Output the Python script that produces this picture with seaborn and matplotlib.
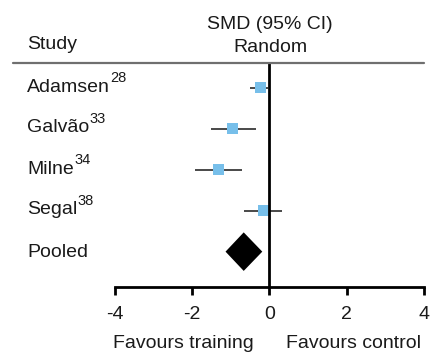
import matplotlib
matplotlib.use("Agg")
import matplotlib.pyplot as plt
import seaborn as sns
import pandas as pd
from matplotlib.lines import Line2D

# ---- data ----
studies = ["Adamsen", "Galvão", "Milne", "Segal"]
refs = ["28", "33", "34", "38"]
smd = [-0.22, -0.96, -1.31, -0.16]
ci_low = [-0.50, -1.51, -1.92, -0.66]
ci_high = [-0.04, -0.33, -0.70, 0.32]
pooled_label = "Pooled"
pooled_smd = -0.66
pooled_low = -1.13
pooled_high = -0.18
xticks = [-4, -2, 0, 2, 4]
xticklabels = ["-4", "-2", "0", "2", "4"]

sns.set_theme(style="white")
plt.rcParams["font.family"] = ["Liberation Sans", "DejaVu Sans"]

W, H = 432, 356
FS = 14
TXT = "#1a1a1a"
fig = plt.figure(figsize=(W / 100, H / 100), dpi=100)
renderer = fig.canvas.get_renderer()

def fx(px):
    return px / W

def fy(py):
    return 1 - py / H

ax_left, ax_right, ax_top, ax_bot = 114.5, 424.0, 62.7, 287.3
ax = fig.add_axes([fx(ax_left), fy(ax_bot), fx(ax_right - ax_left), (ax_bot - ax_top) / H])

df = pd.DataFrame({"study": studies, "smd": smd, "lo": ci_low, "hi": ci_high,
                   "row": list(range(len(studies)))})

# CI lines
ax.hlines(df["row"], df["lo"], df["hi"], color="#2a2a2a", lw=1.2, zorder=2)
# squares
sns.scatterplot(data=df, x="smd", y="row", marker="s", s=64, color="#77BFEA",
                edgecolor="none", linewidth=0, ax=ax, zorder=3, legend=False)

# pooled diamond
prow = len(studies)
dh = 0.47
ax.fill([pooled_low, pooled_smd, pooled_high, pooled_smd],
        [prow, prow - dh, prow, prow + dh], color="black", zorder=4, lw=0)

# zero line
ax.axvline(0, color="black", lw=2, zorder=5)

ax.set_xlim(-4, 4)
ax.set_ylim(4.87, -0.61)
ax.set_xticks(xticks)
ax.set_xticklabels(xticklabels, fontsize=FS)
ax.set_yticks([])
ax.set_xlabel("")
ax.set_ylabel("")
for s in ["top", "left", "right"]:
    ax.spines[s].set_visible(False)
ax.spines["bottom"].set_linewidth(2)
ax.spines["bottom"].set_color("black")
ax.tick_params(axis="x", direction="out", length=5.5, width=2, color="black",
               pad=8, bottom=True, labelcolor=TXT)
ax.patch.set_alpha(0)

# header line
fig.add_artist(Line2D([fx(13), fx(424)], [fy(62.7), fy(62.7)], color="#6f6f6f", lw=1.6))

# headers
fig.text(fx(270), fy(29.3), "SMD (95% CI)", ha="center", va="baseline", fontsize=FS, color=TXT)
fig.text(fx(270), fy(52.3), "Random", ha="center", va="baseline", fontsize=FS, color=TXT)
fig.text(fx(27), fy(49), "Study", ha="left", va="baseline", fontsize=FS, color=TXT)

# study labels with superscripts
baselines = [91.5, 132.5, 173.5, 214.5, 256.7]
for i, (name, ref) in enumerate(zip(studies, refs)):
    t = fig.text(fx(27), fy(baselines[i]), name, ha="left", va="baseline", fontsize=FS, color=TXT)
    bb = t.get_window_extent(renderer=renderer)
    fig.text((bb.x1 + 0.5) / W, fy(baselines[i] - 9.5), ref, ha="left", va="baseline",
             fontsize=10.5, color=TXT)
fig.text(fx(27), fy(baselines[-1]), pooled_label, ha="left", va="baseline", fontsize=FS, color=TXT)

# favours labels
fig.text(fx(183), fy(348.3), "Favours training", ha="center", va="baseline", fontsize=FS, color=TXT)
fig.text(fx(353), fy(348.3), "Favours control", ha="center", va="baseline", fontsize=FS, color=TXT)

fig.savefig("out.png", dpi=100)
